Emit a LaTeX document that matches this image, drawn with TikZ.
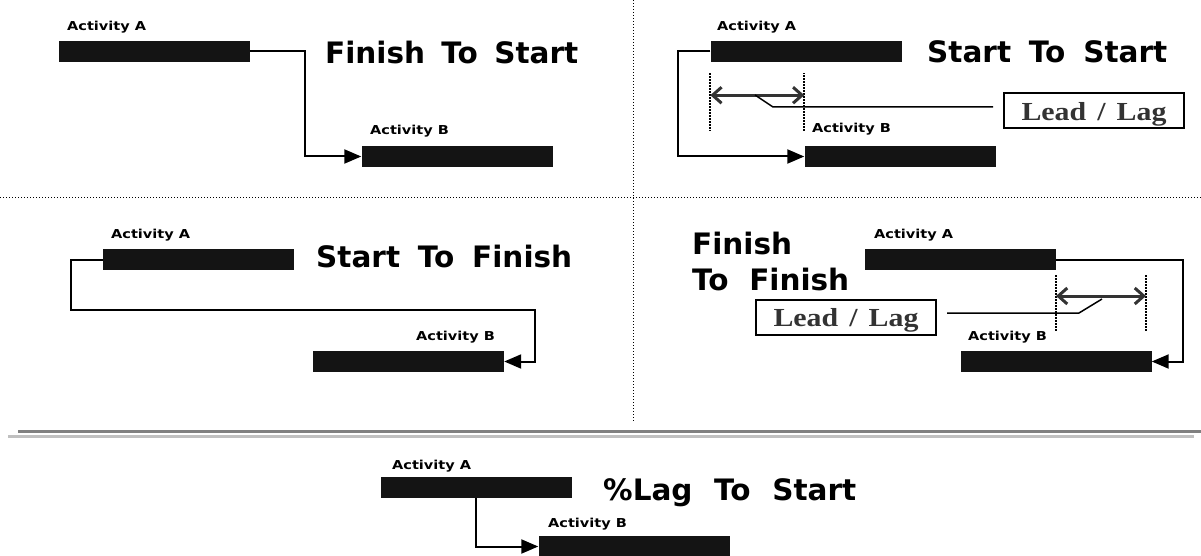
\documentclass[tikz,border=0pt]{standalone}
\usepackage{fontspec}
\setmainfont{DejaVu Sans}
\usetikzlibrary{arrows.meta}
\newfontfamily\labf[FakeStretch=1.18]{DejaVu Sans}
\newfontfamily\ttlf[FakeStretch=1.0]{DejaVu Sans}
\newfontfamily\leadf[FakeStretch=1.15]{Liberation Serif}
\definecolor{barc}{RGB}{20,20,20}
\definecolor{dimc}{RGB}{51,51,51}
\definecolor{rulea}{RGB}{128,128,128}
\definecolor{ruleb}{RGB}{192,192,192}
\tikzset{
  bar/.style={fill=barc, draw=none, inner sep=0pt, minimum width=191pt, minimum height=21pt},
  lab/.style={anchor=base west, inner sep=0pt, font=\labf\bfseries\fontsize{12.3}{14}\selectfont},
  ttl/.style={anchor=base west, inner sep=0pt, font=\ttlf\bfseries\fontsize{29.5}{36}\selectfont},
  conn/.style={line width=2pt, -{Triangle[length=17pt,width=14pt]}},
  sepline/.style={line width=1pt, dash pattern=on 1pt off 2pt},
  vdot/.style={line width=2pt, dash pattern=on 1.5pt off 1.5pt},
  dimarrow/.style={line width=3pt, draw=dimc, {Straight Barb[length=9pt,width=16pt]}-{Straight Barb[length=9pt,width=16pt]}},
  leader/.style={line width=1.5pt},
  leadbox/.style={draw, line width=2pt, minimum width=180pt, minimum height=35pt, inner sep=0pt,
    text height=19pt, text depth=0pt, text=dimc, font=\leadf\bfseries\fontsize{26}{30}\selectfont}
}
\begin{document}
\begin{tikzpicture}[x=1pt,y=-1pt]
\useasboundingbox (0,0) rectangle (1201,556);
% separators
\draw[sepline] (0,197) -- (1201,197);
\draw[sepline] (633,0) -- (633,421);
\draw[line width=3pt, draw=rulea] (18,431) -- (1201,431);
\draw[line width=3pt, draw=ruleb] (8,436) -- (1194,436);

% ---------- Finish To Start ----------
\node[bar] (a1) at (154.5,51.5) {};
\node[bar] (b1) at (457,156.5) {};
\node[lab] (la1) at (67,31) {Activity A};
\node[lab] (lb1) at (370,135) {Activity B};
\node[ttl] (t1) at (325,63.3) {\makebox[253pt][s]{Finish To Start}};
\draw[conn] (a1.east) -- ++(55,0) |- (b1.west);

% ---------- Start To Start ----------
\node[bar] (a2) at (806,51.5) {};
\node[bar] (b2) at (900,156.5) {};
\node[lab] (la2) at (717,30.7) {Activity A};
\node[lab] (lb2) at (812,132.7) {Activity B};
\node[ttl] (t2) at (927,62.3) {\makebox[240pt][s]{Start To Start}};
\draw[conn] (a2.west) -- ++(-32,0) |- (b2.west);
\draw[vdot] ([yshift=-11pt]a2.south west) -- ([yshift=-69pt]a2.south west);
\draw[vdot] ([yshift=15pt]b2.north west) -- ([yshift=73pt]b2.north west);
\coordinate (d2l) at ([yshift=-33pt]a2.south west);
\coordinate (d2r) at (d2l -| b2.west);
\draw[dimarrow] (d2l) -- (d2r);
\node[leadbox] (box2) at (1094,110.7) {\makebox[145pt][s]{Lead / Lag}};
\coordinate (l2a) at (755,95);
\draw[leader] (l2a) -- (773,107) -- ([xshift=-10pt,yshift=3.7pt]box2.west);

% ---------- Start To Finish ----------
\node[bar] (a3) at (198.5,259.5) {};
\node[bar] (b3) at (408.5,361.5) {};
\node[lab] (la3) at (111,238.3) {Activity A};
\node[lab] (lb3) at (416,340.7) {Activity B};
\node[ttl] (t3) at (316,267.7) {\makebox[256pt][s]{Start To Finish}};
\coordinate (k3) at (535,310);
\draw[conn] (a3.west) -- ++(-32,0) |- (k3) |- (b3.east);

% ---------- Finish To Finish ----------
\node[bar] (a4) at (960.5,259.5) {};
\node[bar] (b4) at (1056,361.5) {};
\node[lab] (la4) at (874,238.3) {Activity A};
\node[lab] (lb4) at (968,340.7) {Activity B};
\node[ttl] (t4a) at (692,254.3) {Finish};
\node[ttl] (t4b) at (692,290) {\makebox[157pt][s]{To Finish}};
\draw[conn] (a4.east) -- ++(127,0) |- (b4.east);
\draw[vdot] (1056,275) -- (1056,332);
\draw[vdot] (1146,275) -- (1146,332);
\coordinate (d4l) at (1056,296);
\coordinate (d4r) at (1146,296);
\draw[dimarrow] (d4l) -- (d4r);
\node[leadbox] (box4) at (846,317) {\makebox[145pt][s]{Lead / Lag}};
\coordinate (l4a) at (1102,299);
\draw[leader] ([xshift=10pt,yshift=4pt]box4.east) -- (1079,313) -- (l4a);

% ---------- % Lag To Start ----------
\node[bar] (a5) at (476,487.5) {};
\node[bar] (b5) at (634,546.5) {};
\node[lab] (la5) at (392,469.3) {Activity A};
\node[lab] (lb5) at (548,527.3) {Activity B};
\node[ttl] (t5) at (603,500) {\makebox[253pt][s]{\%Lag To Start}};
\draw[conn] (a5.south) |- (b5.west);
\end{tikzpicture}
\end{document}
